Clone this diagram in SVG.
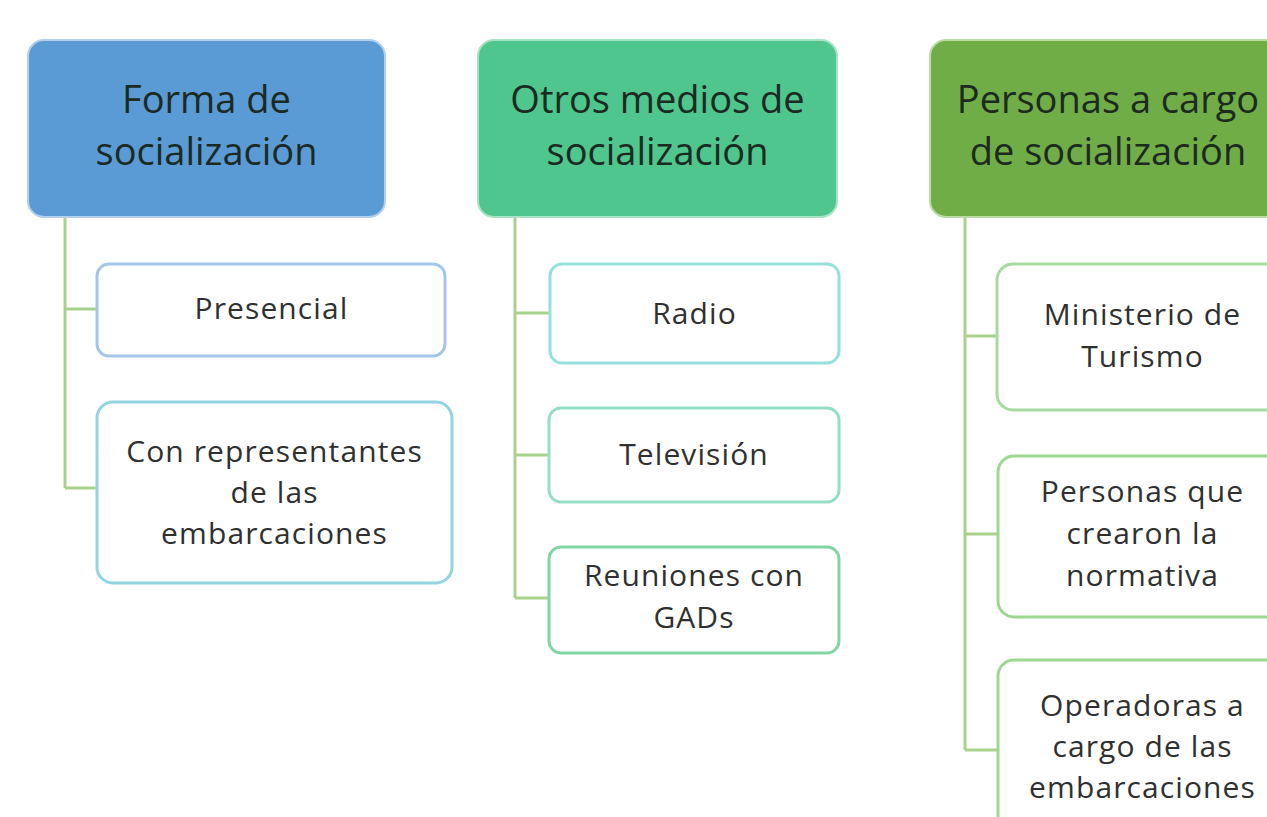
<svg xmlns="http://www.w3.org/2000/svg" width="1267" height="817" viewBox="0 0 1267 817">
<style>
.hd{font-family:"Open Sans","Noto Sans",sans-serif;font-size:38px;fill:#1c2a22;text-anchor:middle}
.ch{font-family:"Open Sans","Noto Sans",sans-serif;font-size:30px;letter-spacing:1.1px;fill:#303030;text-anchor:middle}
.box{fill:#ffffff;stroke-width:3}
.cn{fill:none;stroke:#a9d18e;stroke-width:3}
</style>
<rect width="1267" height="817" fill="#ffffff"/>
<g id="connectors">
<path class="cn" d="M65 217 V488 M65 309 H97 M65 488 H97"/>
<path class="cn" d="M515 217 V598 M515 313 H550 M515 455 H549 M515 598 H549"/>
<path class="cn" d="M965 217 V750 M965 336 H997 M965 534 H998 M965 750 H998"/>
</g>
<g id="h1">
<rect x="28" y="40" width="357" height="177" rx="16" fill="#5b9bd5" stroke="#b4d0ec" stroke-width="2"/>
<text class="hd" x="206.5" y="113">Forma de</text>
<text class="hd" x="206.5" y="165">socialización</text>
</g>
<g id="h2">
<rect x="478" y="40" width="359" height="177" rx="16" fill="#4ec68d" stroke="#a8e3c6" stroke-width="2"/>
<text class="hd" x="657.5" y="113">Otros medios de</text>
<text class="hd" x="657.5" y="165">socialización</text>
</g>
<g id="h3">
<rect x="930" y="40" width="358" height="177" rx="16" fill="#70ad47" stroke="#bcdca6" stroke-width="2"/>
<text class="hd" x="1108" y="113">Personas a cargo</text>
<text class="hd" x="1108" y="165">de socialización</text>
</g>
<g id="c1">
<rect class="box" x="97" y="264" width="348" height="92" rx="12" stroke="#a3c7ea"/>
<text class="ch" x="271.5" y="319">Presencial</text>
</g>
<g id="c2">
<rect class="box" x="97" y="402" width="355" height="181" rx="16" stroke="#93d3e4"/>
<text class="ch" x="274.5" y="462">Con representantes</text>
<text class="ch" x="274.5" y="503">de las</text>
<text class="ch" x="274.5" y="544">embarcaciones</text>
</g>
<g id="c3">
<rect class="box" x="550" y="264" width="289" height="99" rx="12" stroke="#98e0da"/>
<text class="ch" x="694.5" y="324">Radio</text>
</g>
<g id="c4">
<rect class="box" x="549" y="408" width="290" height="94" rx="12" stroke="#95dfc6"/>
<text class="ch" x="694" y="465">Televisión</text>
</g>
<g id="c5">
<rect class="box" x="549" y="547" width="290" height="106" rx="12" stroke="#82d6a6"/>
<text class="ch" x="694" y="586">Reuniones con</text>
<text class="ch" x="694" y="628">GADs</text>
</g>
<g id="c6">
<rect class="box" x="997" y="264" width="291" height="146" rx="16" stroke="#a6dba0"/>
<text class="ch" x="1142.5" y="325">Ministerio de</text>
<text class="ch" x="1142.5" y="367">Turismo</text>
</g>
<g id="c7">
<rect class="box" x="998" y="456" width="290" height="161" rx="16" stroke="#9dd892"/>
<text class="ch" x="1142.5" y="502">Personas que</text>
<text class="ch" x="1142.5" y="544">crearon la</text>
<text class="ch" x="1142.5" y="586">normativa</text>
</g>
<g id="c8">
<rect class="box" x="998" y="660" width="290" height="190" rx="16" stroke="#9dd892"/>
<text class="ch" x="1142.5" y="716">Operadoras a</text>
<text class="ch" x="1142.5" y="757">cargo de las</text>
<text class="ch" x="1142.5" y="798">embarcaciones</text>
</g>
</svg>
